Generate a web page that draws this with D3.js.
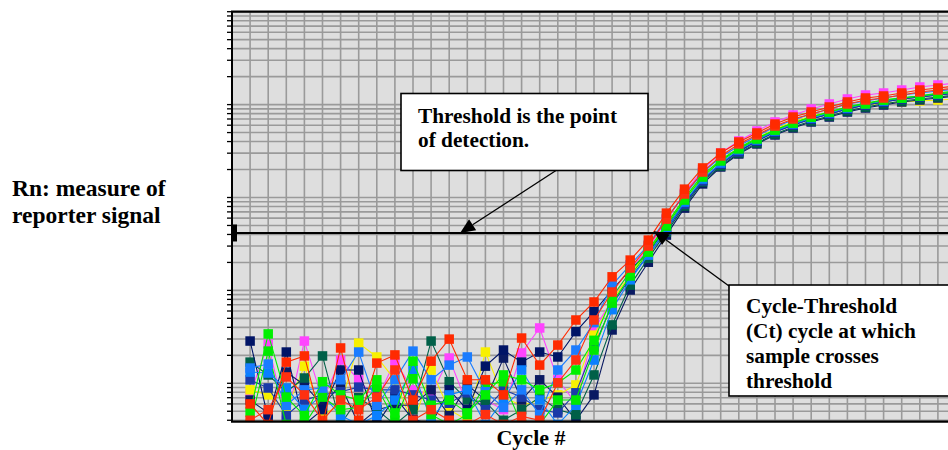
<!DOCTYPE html>
<html><head><meta charset="utf-8">
<script src="https://cdn.jsdelivr.net/npm/d3@7"></script>
<style>
body{margin:0;background:#fff;}
svg{display:block;}
text{font-family:"Liberation Serif","Times New Roman",serif;font-weight:bold;fill:#000;}
</style>
</head><body>
<svg id="chart" width="948" height="450"></svg>
<script>
// ---------- data ----------
const cycles = d3.range(1, 41);
const thresholdValue = 41.5;
const redValues     = [0.60,0.36,1.69,1.97,0.36,2.40,0.40,1.65,2.02,0.66,1.73,2.99,1.09,1.09,0.75,3.07,1.57,2.58, 4.8,7.5,14.0,21.2,34.8,67.9,123,208,301,396,495,618,735,832,942,1067,1178,1238,1333,1436,1509,1586];
const magentaValues = [0.77,2.64,0.40,2.85,0.66,1.78,1.09,0.66,1.73,0.85,0.75,1.87,0.58,0.66,0.52,2.12,3.94,1.09, 0.61,3.75,7.9,16.6,28.5,57.1,112,198,301,406,520,650,773,897,1015,1149,1269,1333,1436,1547,1626,1708];
const yellowValues  = [0.85,0.75,0.52,1.53,0.46,0.58,2.71,1.92,1.09,0.36,1.39,0.52,0.40,2.17,0.70,0.58,0.66,0.75, 0.96,3.3,7.9,14.7,27.1,50.4,98.6,170,253,341,437,546,650,754,832,919,990,1040,1067,1094,1121,1149];
const limeValues    = [0.49,3.4,0.71,0.45,1.04,0.75,0.66,1.09,0.48,1.73,0.58,0.66,0.48,0.75,1.23,1.09,0.85,1.01, 1.39,2.9,8.5,15.8,27.1,51.7,98.6,175,253,341,437,533,634,735,832,942,1015,1121,1178,1238,1301,1367];
const tealValues    = [1.69,1.23,0.81,1.14,1.97,0.36,0.70,0.52,0.36,0.52,2.85,1.04,0.66,0.63,0.40,0.52,0.71,0.52, 0.46,1.23,4.25,11.4,22.2,42.4,80.8,147,218,301,386,482,574,666,754,853,942,1015,1094,1149,1207,1269];
const azureValues   = [1.46,1.61,0.58,0.85,0.89,1.09,2.17,0.58,1.09,2.22,1.09,1.57,1.92,0.81,0.55,0.85,0.46,1.39, 2.28,4.5,11.4,18.8,30.7,60.0,106,184,273,358,459,574,683,792,897,1015,1094,1178,1269,1333,1401,1472];
const navyValues    = [2.85,0.42,2.17,0.36,0.52,1.39,1.39,0.36,0.71,0.41,0.36,0.85,0.52,1.53,2.28,1.69,2.17,1.92, 3.6,5.9,10.1,16.6,25.8,46.8,87.1,154,229,317,406,507,603,700,792,897,990,1067,1149,1207,1269,1333];
const royalValues   = [1.09,0.89,0.45,0.66,0.75,0.81,0.91,0.85,0.85,0.75,0.66,0.61,0.79,0.52,0.85,0.71,0.52,0.48, 0.79,2.46,7.0,13.6,24.0,44.5,84.9,151,229,309,406,507,603,700,792,897,990,1067,1149,1207,1269,1333];
const red2Values    = [0.40,0.52,1.17,0.75,0.40,0.66,0.52,0.71,1.39,0.40,0.52,0.40,0.36,0.46,0.36,0.44,0.40,1.01, 1.78,4.8,9.6,17.4,30.0,58.5,109,188,280,377,471,588,700,792,897,1015,1121,1178,1269,1367,1436,1509];
const azure2Values  = [1.32,1.29,0.89,0.52,0.75,0.45,0.36,0.45,0.66,1.39,0.40,0.75,0.85,0.36,0.66,1.39,0.66,0.36, 0.58,1.78,6.2,13.0,24.0,45.7,89.3,158,235,325,416,520,618,717,812,919,1015,1094,1178,1238,1301,1367];
const navy2Values   = [0.66,0.48,1.32,0.96,0.58,0.96,0.36,0.52,0.58,0.58,0.85,0.45,0.96,0.66,1.87,0.66,1.09,0.71, 0.40,0.75,3.75,10.1,20.1,39.4,76.9,140,213,294,377,471,560,650,735,832,919,990,1067,1121,1178,1238];
const lime2Values   = [0.36,2.22,0.36,0.36,0.71,0.52,0.55,0.91,0.40,1.12,0.46,0.36,0.46,0.96,1.04,0.36,0.36,0.66, 0.66,2.28,7.3,14.3,25.8,49.2,93.8,166,247,333,426,533,634,735,832,942,1040,1121,1178,1238,1333,1401];

const seriesNames  = ["magenta","yellow","navy2","teal","navy","royal","azure2","lime2","azure","lime","red2","red"];
const seriesColors = ["#ff44ff","#f8f000","#0a1a62","#006048","#001466","#1a3aa8","#0a80ff","#00e800","#1a7cff","#00f000","#ff3010","#ff2a00"];
const seriesValues = [magentaValues,yellowValues,navy2Values,tealValues,navyValues,royalValues,azure2Values,lime2Values,azureValues,limeValues,red2Values,redValues];

const yLabelLines = ["Rn: measure of","reporter signal"];
const xLabel = "Cycle #";
const thresholdNote = ["Threshold is the point","of detection."];
const ctNote = ["Cycle-Threshold","(Ct) cycle at which","sample crosses","threshold"];
const thresholdArrowCycle = 12.6;
const ctArrowCycle = 23.3;

// ---------- layout ----------
const svg = d3.select("#chart");
const W = 948, H = 450;
const plotLeft = 232, plotTop = 11.7, plotBottom = 421.7, cycleStep = 18.1;
const x = d3.scaleLinear().domain([0, 40]).range([plotLeft, plotLeft + cycleStep * 40]);
const y = d3.scaleLog().domain([0.386, 10000]).range([plotBottom, plotTop]);

svg.append("rect").attr("width", W).attr("height", H).attr("fill", "#fff");

const defs = svg.append("defs");
defs.append("clipPath").attr("id", "plotClip")
  .append("rect").attr("x", plotLeft).attr("y", plotTop).attr("width", W - plotLeft + 20).attr("height", plotBottom - plotTop);

svg.append("rect").attr("x", plotLeft).attr("y", plotTop).attr("width", W - plotLeft + 20).attr("height", plotBottom - plotTop)
  .attr("fill", "#dedede");

const grid = svg.append("g").attr("clip-path", "url(#plotClip)");
const gridVals = [];
for (let k = -1; k <= 4; k++) for (let m = 1; m <= 9; m++) {
  const v = m * Math.pow(10, k);
  if (v >= 0.386 && v <= 10000) gridVals.push(v);
}
grid.selectAll("line.h").data(gridVals).join("line")
  .attr("x1", plotLeft).attr("x2", W + 20)
  .attr("y1", d => y(d)).attr("y2", d => y(d))
  .attr("stroke", "#9a9a9a").attr("stroke-width", 1.6);
grid.selectAll("line.v").data(cycles).join("line")
  .attr("x1", d => x(d)).attr("x2", d => x(d))
  .attr("y1", plotTop).attr("y2", plotBottom)
  .attr("stroke", "#9a9a9a").attr("stroke-width", 1.6);

svg.append("g").selectAll("line").data(gridVals).join("line")
  .attr("x1", plotLeft - 5).attr("x2", plotLeft)
  .attr("y1", d => y(d)).attr("y2", d => y(d))
  .attr("stroke", "#000").attr("stroke-width", 1.3);

const plot = svg.append("g").attr("clip-path", "url(#plotClip)");
const line = d3.line().x((d, i) => x(cycles[i])).y(d => y(d));
seriesValues.forEach((vals, si) => {
  const g = plot.append("g").attr("class", "series-" + seriesNames[si]);
  g.append("path").datum(vals).attr("d", line)
    .attr("fill", "none").attr("stroke", seriesColors[si]).attr("stroke-width", 1.1);
  g.selectAll("rect").data(vals).join("rect")
    .attr("x", (d, i) => x(cycles[i]) - 4.75).attr("y", d => y(d) - 4.75)
    .attr("width", 9.5).attr("height", 9.5)
    .attr("fill", seriesColors[si]);
});

svg.append("line").attr("x1", plotLeft).attr("x2", W)
  .attr("y1", y(thresholdValue)).attr("y2", y(thresholdValue))
  .attr("stroke", "#000").attr("stroke-width", 2);
svg.append("rect").attr("x", plotLeft - 1).attr("y", y(thresholdValue) - 8.5)
  .attr("width", 6).attr("height", 17).attr("fill", "#000");

svg.append("line").attr("x1", plotLeft - 1).attr("x2", W).attr("y1", plotTop).attr("y2", plotTop).attr("stroke", "#000").attr("stroke-width", 2.2);
svg.append("line").attr("x1", plotLeft - 1).attr("x2", W).attr("y1", plotBottom).attr("y2", plotBottom).attr("stroke", "#000").attr("stroke-width", 2.2);
svg.append("line").attr("x1", plotLeft).attr("x2", plotLeft).attr("y1", plotTop).attr("y2", plotBottom).attr("stroke", "#000").attr("stroke-width", 2);

function arrow(x0, y0, tx, ty) {
  const dx = x0 - tx, dy = y0 - ty, L = Math.hypot(dx, dy);
  const ux = dx / L, uy = dy / L, px = -uy, py = ux;
  const len = 15, half = 6.5;
  const bx = tx + ux * len, by = ty + uy * len;
  svg.append("line").attr("x1", x0).attr("y1", y0).attr("x2", bx).attr("y2", by)
    .attr("stroke", "#000").attr("stroke-width", 1.3);
  svg.append("path")
    .attr("d", `M${tx},${ty}L${bx + px * half},${by + py * half}L${bx - px * half},${by - py * half}Z`)
    .attr("fill", "#000");
}

const tb = {x: 401, y: 93.5, w: 247, h: 77};
svg.append("rect").attr("x", tb.x).attr("y", tb.y).attr("width", tb.w).attr("height", tb.h)
  .attr("fill", "#fff").attr("stroke", "#000").attr("stroke-width", 1.6);
svg.append("text").attr("x", 418).attr("y", 123).attr("font-size", 21.3)
  .selectAll("tspan").data(thresholdNote).join("tspan")
  .attr("x", 418).attr("dy", (d, i) => i ? 23.5 : 0).text(d => d);
arrow(556, tb.y + tb.h, x(thresholdArrowCycle), y(thresholdValue));

const cb = {x: 729, y: 285, w: 240, h: 111};
svg.append("rect").attr("x", cb.x).attr("y", cb.y).attr("width", cb.w).attr("height", cb.h)
  .attr("fill", "#fff").attr("stroke", "#000").attr("stroke-width", 1.6);
svg.append("text").attr("x", 746).attr("y", 313).attr("font-size", 21.3)
  .selectAll("tspan").data(ctNote).join("tspan")
  .attr("x", 746).attr("dy", (d, i) => i ? 25 : 0).text(d => d);
arrow(cb.x, cb.y + 1, x(ctArrowCycle), y(thresholdValue) - 2);

svg.append("text").attr("x", 12).attr("y", 196).attr("font-size", 23.5)
  .selectAll("tspan").data(yLabelLines).join("tspan")
  .attr("x", 12).attr("dy", (d, i) => i ? 27 : 0).text(d => d);
svg.append("text").attr("x", 531).attr("y", 445).attr("text-anchor", "middle").attr("font-size", 22)
  .text(xLabel);
</script>
</body></html>
